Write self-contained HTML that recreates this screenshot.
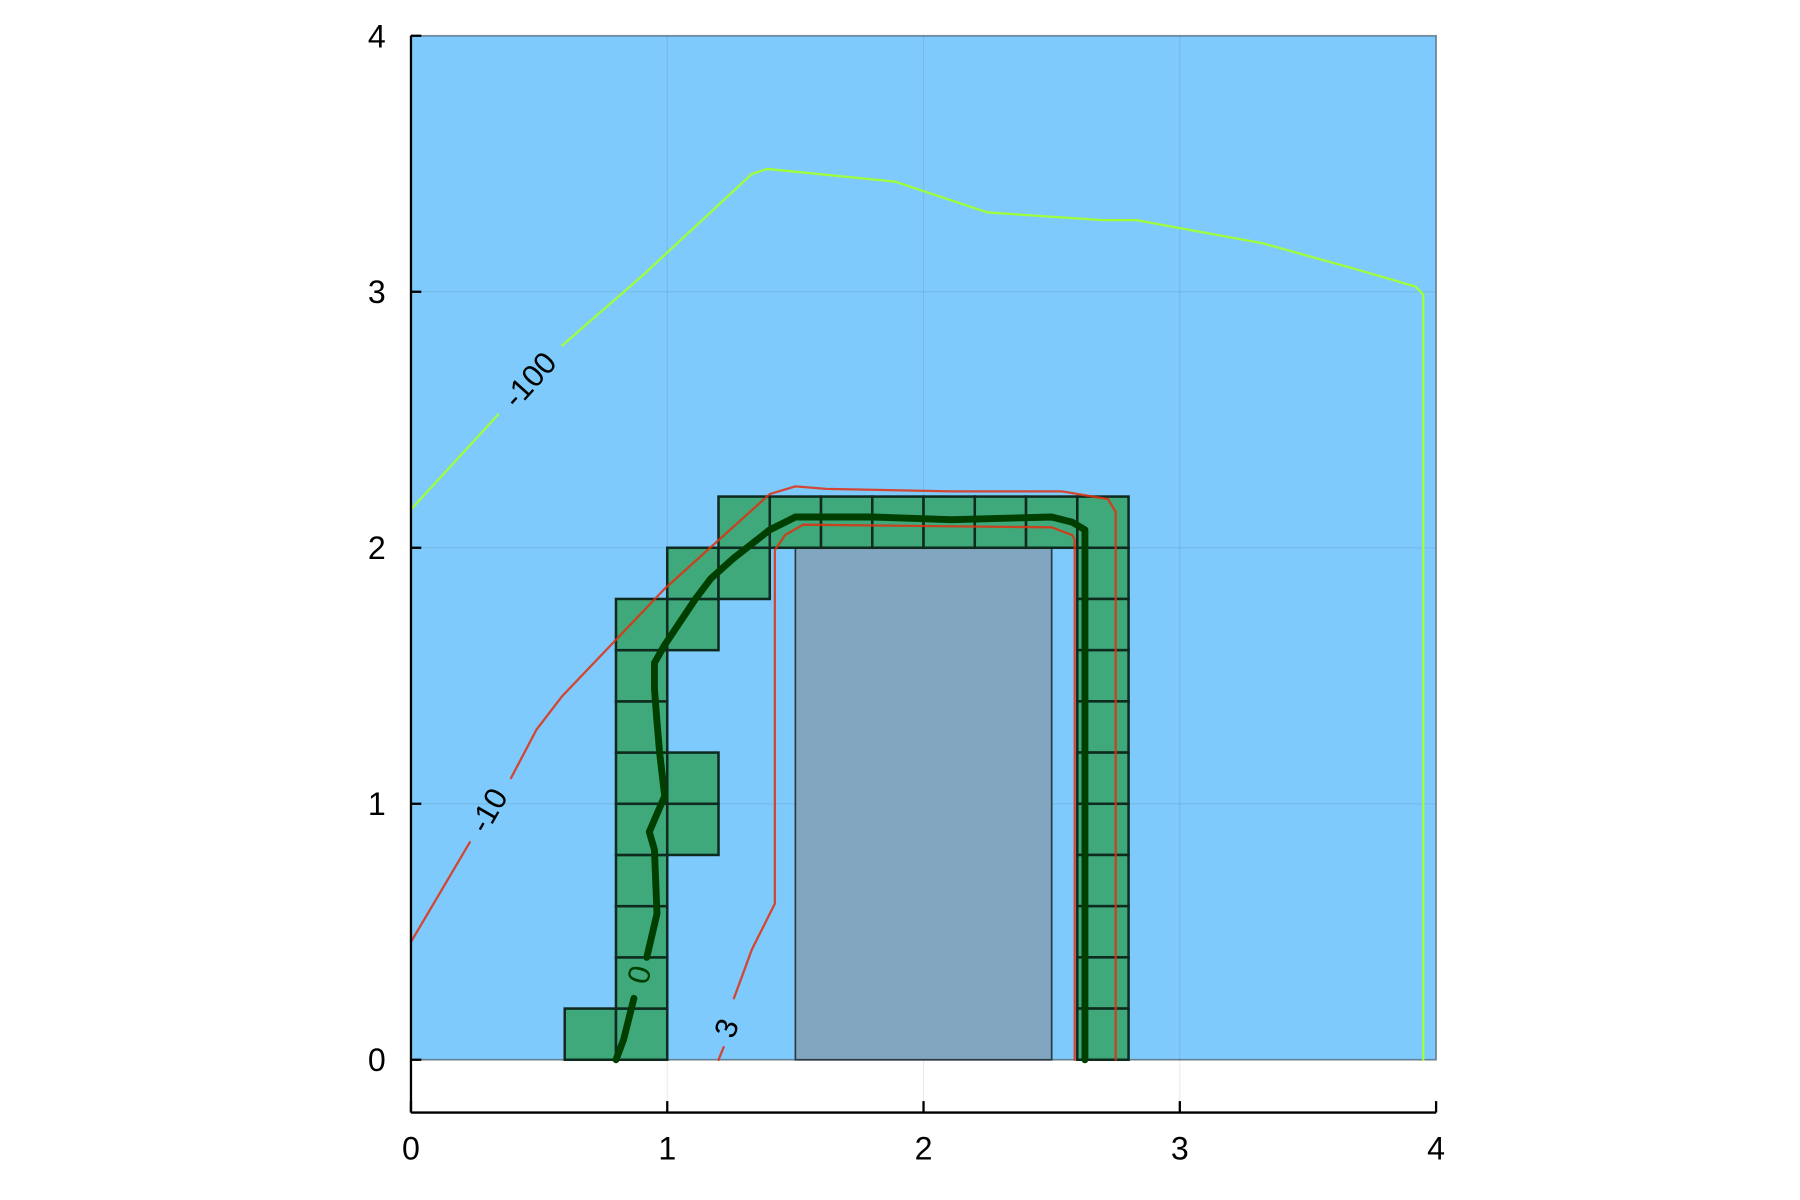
<!DOCTYPE html>
<html><head><meta charset="utf-8"><style>
html,body{margin:0;padding:0;background:#fff;}
svg{display:block;font-family:"Liberation Sans","DejaVu Sans",sans-serif;}
</style></head><body>
<svg id="chart" width="1800" height="1200" viewBox="0 0 1568 1045" xmlns="http://www.w3.org/2000/svg">
<g id="plot"></g>
</svg>
<script>
const xTicks=[0,1,2,3,4];
const yTicks=[0,1,2,3,4];
const obstacle=[1.5,0,2.5,2];
const cellSize=0.2;
const cellsX=[0.6,0.8,0.8,0.8,0.8,0.8,0.8,0.8,0.8,1.0,1.0,0.8,1.0,1.0,1.2,1.2,1.4,1.6,1.8,2.0,2.2,2.4,2.6,2.6,2.6,2.6,2.6,2.6,2.6,2.6,2.6,2.6];
const cellsY=[0,0,0.2,0.4,0.6,0.8,1.0,1.2,1.4,0.8,1.0,1.6,1.6,1.8,1.8,2.0,2.0,2.0,2.0,2.0,2.0,2.0,2.0,1.8,1.6,1.4,1.2,1.0,0.8,0.6,0.4,0.2];
const cellsX2=[2.6];const cellsY2=[0];
const pathAX=[0.80,0.83,0.87];const pathAY=[0,0.08,0.24];
const pathBX=[0.92,0.96,0.95,0.93,0.99,0.97,0.96,0.95,0.95,0.99,1.11,1.17,1.26,1.40,1.50,1.80,2.11,2.50,2.58,2.63,2.63];
const pathBY=[0.40,0.57,0.82,0.89,1.03,1.20,1.32,1.45,1.55,1.62,1.80,1.88,1.96,2.07,2.12,2.12,2.11,2.12,2.10,2.07,0];
const c100AX=[0,0.34];const c100AY=[2.15,2.52];
const c100BX=[0.59,0.9,1.33,1.39,1.89,2.25,2.70,2.83,3.32,3.68,3.92,3.95,3.95];
const c100BY=[2.79,3.06,3.46,3.48,3.43,3.31,3.28,3.28,3.19,3.09,3.02,2.99,0];
const c10AX=[0,0.23];const c10AY=[0.46,0.85];
const c10BX=[0.39,0.49,0.59,0.99,1.40,1.50,1.62,2.11,2.54,2.72,2.75,2.75];
const c10BY=[1.10,1.29,1.42,1.84,2.21,2.24,2.23,2.22,2.22,2.19,2.14,0];
const c3AX=[1.20,1.22];const c3AY=[0,0.05];
const c3BX=[1.26,1.33,1.42,1.42,1.42,1.46,1.53,2.50,2.58,2.59,2.59];
const c3BY=[0.24,0.43,0.61,1.22,1.99,2.05,2.09,2.08,2.05,2.03,0];
const labelText=["-100","-10","0","3"];
const labelX=[0.47,0.31,0.90,1.24];
const labelY=[2.65,0.97,0.33,0.12];
const labelRot=[-48,-60,-75,-70];

const X0=358,X1=1251,Y0=923,Y1=31,AXB=969;
const sx=v=>X0+(X1-X0)*v/4, sy=v=>Y0-(Y0-Y1)*v/4;
const NS="http://www.w3.org/2000/svg";
const g=document.getElementById('plot');
function mk(t,a){const e=document.createElementNS(NS,t);for(const k in a)e.setAttribute(k,a[k]);g.appendChild(e);return e;}
let e=mk('rect',{x:X0,y:Y1,width:X1-X0,height:Y0-Y1,fill:'#7fcafc',stroke:'#3a4a55','stroke-opacity':0.6,'stroke-width':1.5});

for(const t of [1,2,3]){
 e=mk('line',{x1:sx(t),x2:sx(t),y1:Y1,y2:AXB,stroke:'#000','stroke-opacity':0.08,'stroke-width':1});
 
 e=mk('line',{x1:X0,x2:X1,y1:sy(t),y2:sy(t),stroke:'#000','stroke-opacity':0.08,'stroke-width':1});
 
}
e=mk('rect',{x:sx(obstacle[0]),y:sy(obstacle[3]),width:sx(obstacle[2])-sx(obstacle[0]),height:sy(obstacle[1])-sy(obstacle[3]),fill:'#82a6bf',stroke:'#2b3b45','stroke-width':1.5});

const allX=cellsX.concat(cellsX2),allY=cellsY.concat(cellsY2);
for(let i=0;i<allX.length;i++){
 e=mk('rect',{x:sx(allX[i]),y:sy(allY[i]+cellSize),width:sx(cellSize)-sx(0),height:sy(0)-sy(cellSize),fill:'#3fa97c',stroke:'#0f2a1e','stroke-width':2.2});
 
}
function line(xs,ys,col,w,name,op){
 const d=xs.map((v,i)=>(i?'L':'M')+sx(v).toFixed(1)+','+sy(ys[i]).toFixed(1)).join('');
 const p=mk('path',{d:d,fill:'none',stroke:col,'stroke-width':w,'stroke-linejoin':'round','stroke-linecap':'round','stroke-opacity':op||1});
 
}
line(c100AX,c100AY,'#9eff3a',2,'contour-minus-100');line(c100BX,c100BY,'#9eff3a',2,'contour-minus-100');
line(c10AX,c10AY,'#e03010',2,'contour-minus-10',0.85);line(c10BX,c10BY,'#e03010',2,'contour-minus-10',0.85);
line(c3AX,c3AY,'#e03010',2,'contour-3',0.85);line(c3BX,c3BY,'#e03010',2,'contour-3',0.85);
line(pathAX,pathAY,'#003f00',6,'trajectory');line(pathBX,pathBY,'#003f00',6,'trajectory');
for(let i=0;i<labelText.length;i++){
 e=mk('text',{x:sx(labelX[i]),y:sy(labelY[i]),'font-size':27,'text-anchor':'middle','dominant-baseline':'middle',fill:i==2?'#003f00':'#000',transform:`rotate(${labelRot[i]} ${sx(labelX[i])} ${sy(labelY[i])})`});
 e.textContent=labelText[i];
 
}
e=mk('line',{x1:X0,x2:X0,y1:Y1,y2:AXB,stroke:'#000','stroke-width':2});

e=mk('line',{x1:X0,x2:X1,y1:AXB,y2:AXB,stroke:'#000','stroke-width':2});

for(const t of xTicks){
 e=mk('line',{x1:sx(t),x2:sx(t),y1:AXB,y2:AXB-10,stroke:'#000','stroke-width':2});
 
 e=mk('text',{x:sx(t),y:1010,'font-size':28,'text-anchor':'middle',fill:'#000'});e.textContent=t;
 
}
for(const t of yTicks){
 e=mk('line',{x1:X0,x2:X0+9,y1:sy(t),y2:sy(t),stroke:'#000','stroke-width':2});
 
 e=mk('text',{x:336,y:sy(t)+10,'font-size':28,'text-anchor':'end',fill:'#000'});e.textContent=t;
 
}
</script>
</body></html>
